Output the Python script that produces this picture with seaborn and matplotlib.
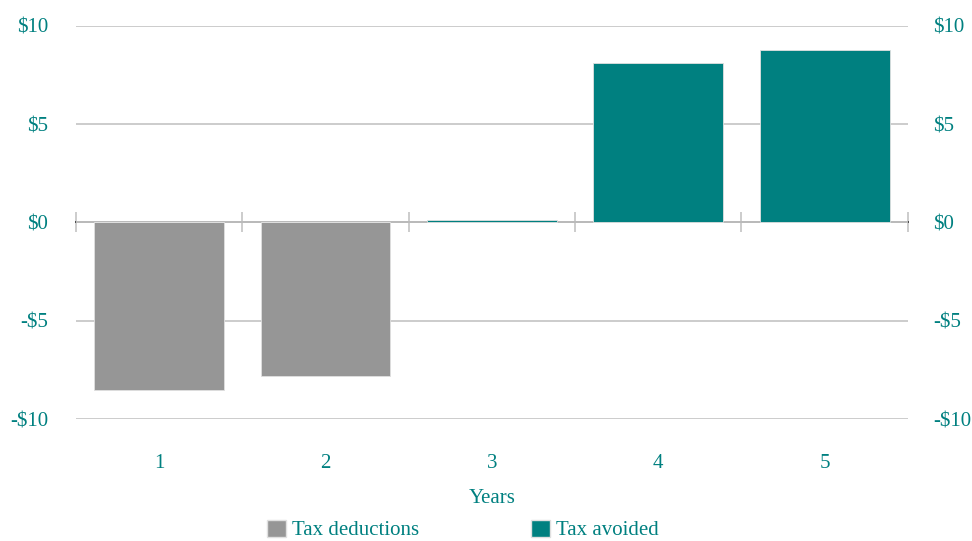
import matplotlib
matplotlib.use("Agg")
import matplotlib.pyplot as plt
import seaborn as sns
import pandas as pd
import numpy as np
from matplotlib.patches import Patch

years = ["1", "2", "3", "4", "5"]
tax_deductions = [-8.5, -7.8, 0.0, 0.0, 0.0]
tax_avoided = [0.0, 0.0, 0.15, 8.1, 8.8]
series_names = ["Tax deductions", "Tax avoided"]
y_ticks = [-10, -5, 0, 5, 10]
y_tick_labels = ["-$10", "-$5", "$0", "$5", "$10"]

GRAY = "#969696"
TEAL = "#008080"
GRID = "#c8c8c8"

sns.set_theme(style="white")
plt.rcParams["font.family"] = ["Liberation Serif", "DejaVu Serif"]

df = pd.DataFrame({
    "Years": years * 2,
    "value": tax_deductions + tax_avoided,
    "series": [series_names[0]] * len(years) + [series_names[1]] * len(years),
})

FS = 15

fig = plt.figure(figsize=(9.72, 5.41), dpi=100)
ax = fig.add_axes([0.0782, 0.2255, 0.934 - 0.0782, 0.952 - 0.2255])

sns.barplot(data=df, x="Years", y="value", hue="series", dodge=False,
            palette={series_names[0]: GRAY, series_names[1]: TEAL}, saturation=1,
            width=0.78, edgecolor="#e0e0e0", linewidth=0.6, ax=ax, legend=False,
            zorder=3)

ax.set_ylim(-10, 10)
ax.set_xlim(-0.5, len(years) - 0.5)
ax.set_yticks(y_ticks)
ax.set_yticklabels(y_tick_labels)
ax.grid(axis="y", color=GRID, linewidth=1.3, zorder=0)
ax.set_axisbelow(True)
for s in ax.spines.values():
    s.set_visible(False)
ax.tick_params(axis="y", length=0, pad=20, labelsize=FS, labelcolor=TEAL)
ax.tick_params(axis="x", length=0, pad=25, labelsize=FS, labelcolor=TEAL)
ax.set_ylabel("")
ax.set_xlabel("Years", fontsize=FS, color=TEAL, labelpad=12)

# zero axis with category-boundary ticks
sec = ax.secondary_xaxis(0.5)
sec.set_xticks(np.arange(len(years) + 1) - 0.5)
sec.set_xticklabels([""] * (len(years) + 1))
sec.tick_params(axis="x", direction="inout", length=14, width=1.3, color=GRID)
sec.spines["bottom"].set_color(GRID)
sec.spines["bottom"].set_linewidth(1.3)

ax2 = ax.twinx()
ax2.set_ylim(ax.get_ylim())
ax2.set_yticks(y_ticks)
ax2.set_yticklabels(y_tick_labels)
ax2.tick_params(axis="y", length=0, pad=18, labelsize=FS, labelcolor=TEAL)
for s in ax2.spines.values():
    s.set_visible(False)
ax2.grid(False)

handles = [Patch(facecolor=GRAY, edgecolor="#e0e0e0", label=series_names[0]),
           Patch(facecolor=TEAL, edgecolor="#e0e0e0", label=series_names[1])]
leg = fig.legend(handles=handles, loc="center", bbox_to_anchor=(463 / 972, 1 - 530 / 541),
                 ncol=2, frameon=False, fontsize=FS, handlelength=0.9, handleheight=0.9,
                 handletextpad=0.3, columnspacing=5.4)
for t in leg.get_texts():
    t.set_color(TEAL)

fig.savefig("out.png", dpi=100)
